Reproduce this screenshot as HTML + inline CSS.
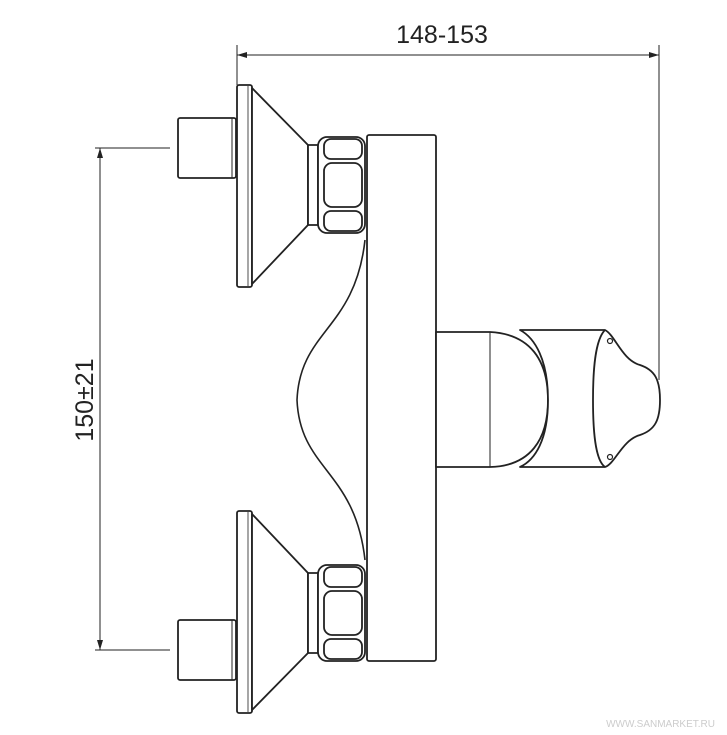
<!DOCTYPE html>
<html><head><style>body{margin:0;background:#fff}svg{display:block}</style></head><body>
<svg width="727" height="735" viewBox="0 0 727 735" xmlns="http://www.w3.org/2000/svg">
<defs>
<marker id="a" viewBox="0 0 10 10" refX="10" refY="5" markerWidth="16" markerHeight="10" markerUnits="userSpaceOnUse" orient="auto-start-reverse"><path d="M0,2 L10,5 L0,8 z" fill="#222"/></marker>
<g id="inlet" fill="#fff" stroke="#222" stroke-width="1.8" stroke-linejoin="round">
<rect x="178" y="118" width="58" height="60" rx="2"/>
<line x1="232" y1="118" x2="232" y2="178" stroke-width="1"/>
<rect x="237" y="85" width="15" height="202" rx="2"/>
<line x1="248" y1="86" x2="248" y2="286" stroke-width="0.8"/>
<path d="M252,88 L308,145 L308,225 L252,284 Z"/>
<rect x="308" y="145" width="10" height="80"/>
<rect x="318" y="137" width="47" height="96" rx="9"/>
<rect x="324" y="139" width="38" height="20" rx="7"/>
<rect x="324" y="163" width="38" height="44" rx="8"/>
<rect x="324" y="211" width="38" height="20" rx="7"/>
</g>
</defs>
<g fill="none" stroke="#222" stroke-width="1">
<line x1="237" y1="45" x2="237" y2="85"/>
<line x1="659" y1="45" x2="659" y2="380"/>
<line x1="237" y1="55" x2="659" y2="55" marker-start="url(#a)" marker-end="url(#a)"/>
<line x1="95" y1="148" x2="170" y2="148"/>
<line x1="95" y1="650" x2="170" y2="650"/>
<line x1="100" y1="148" x2="100" y2="650" marker-start="url(#a)" marker-end="url(#a)"/>
</g>
<text x="442" y="43" font-family="Liberation Sans, sans-serif" font-size="25" text-anchor="middle" fill="#222">148-153</text>
<text transform="translate(93,400) rotate(-90)" font-family="Liberation Sans, sans-serif" font-size="25" text-anchor="middle" fill="#222">150±21</text>
<use href="#inlet"/>
<use href="#inlet" transform="translate(0,798) scale(1,-1)"/>
<path d="M365,240 C355,330 300,330 297,400 C300,470 355,470 365,560" fill="none" stroke="#222" stroke-width="1.6"/>
<rect x="367" y="135" width="69" height="526" rx="2" fill="#fff" stroke="#222" stroke-width="1.8"/>
<g fill="#fff" stroke="#222" stroke-width="1.8" stroke-linejoin="round">
<path d="M436,332 L490,332 C530,334 548,360 548,400 C548,440 530,466 490,467 L436,467 Z"/>
<line x1="490" y1="332" x2="490" y2="467" stroke-width="1"/>
<path d="M520,330 L605,330 C615,335 622,360 640,365 C655,370 660,380 660,400 C660,420 655,430 640,435 C622,440 615,464 605,467 L520,467 C535,460 548,440 548,400 C548,360 535,338 520,330 Z"/>
<path d="M605,330 C595,340 593,370 593,400 C593,430 595,460 605,467" fill="none"/>
<circle cx="610" cy="341" r="2.5" fill="none" stroke-width="1.2"/>
<circle cx="610" cy="457" r="2.5" fill="none" stroke-width="1.2"/>
</g>
<text x="715" y="727" font-family="Liberation Sans, sans-serif" font-size="10" text-anchor="end" fill="#ccc">WWW.SANMARKET.RU</text>
</svg>
</body></html>
